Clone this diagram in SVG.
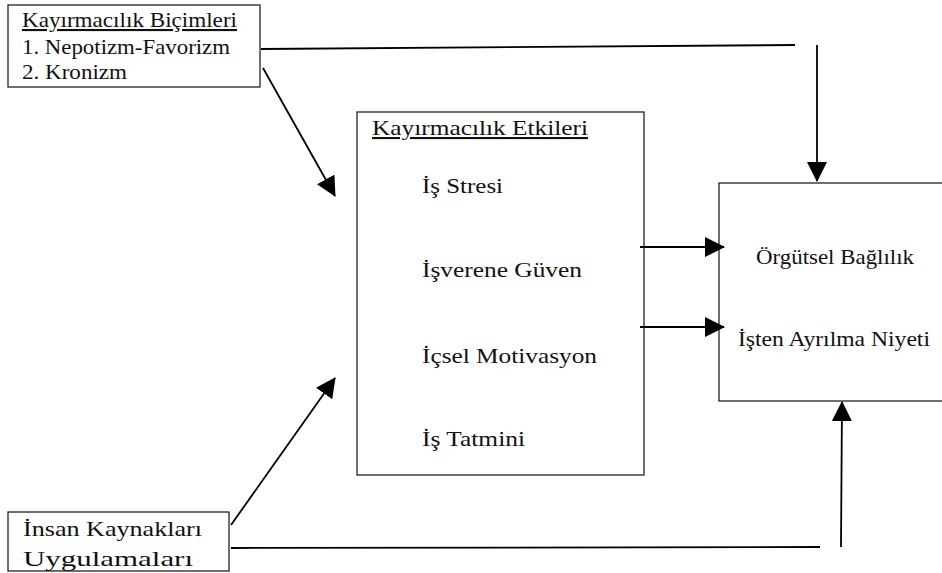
<svg xmlns="http://www.w3.org/2000/svg" width="942" height="573" viewBox="0 0 942 573">
<style>
.box{fill:#fff;stroke:#222;stroke-width:1.3}
.u{text-decoration:underline}
.c{fill:none;stroke:#000;stroke-width:1.8}
</style>
<defs>
<marker id="ah" viewBox="0 0 20 20" refX="19" refY="10" markerWidth="20" markerHeight="20" markerUnits="userSpaceOnUse" orient="auto">
<path d="M0,0 L20,10 L0,20 Z" fill="#000"/>
</marker>
</defs>
<rect width="942" height="573" fill="#fff"/>
<g font-family="'Liberation Serif', 'DejaVu Serif', 'Times New Roman', Times, serif" font-size="21" fill="#111">
<g id="bicimler">
<rect class="box" x="8" y="5" width="252" height="82"/>
<text class="u" x="22" y="27" textLength="215" lengthAdjust="spacingAndGlyphs">Kayırmacılık Biçimleri</text>
<text x="22" y="54" textLength="208" lengthAdjust="spacingAndGlyphs">1. Nepotizm-Favorizm</text>
<text x="22" y="79" textLength="105" lengthAdjust="spacingAndGlyphs">2. Kronizm</text>
</g>
<g id="etkiler">
<rect class="box" x="357" y="112" width="287" height="363"/>
<text class="u" x="372" y="135" textLength="216" lengthAdjust="spacingAndGlyphs">Kayırmacılık Etkileri</text>
<text x="422" y="193" textLength="81" lengthAdjust="spacingAndGlyphs">İş Stresi</text>
<text x="422" y="277" textLength="160" lengthAdjust="spacingAndGlyphs">İşverene Güven</text>
<text x="422" y="363" textLength="175" lengthAdjust="spacingAndGlyphs">İçsel Motivasyon</text>
<text x="422" y="446" textLength="103" lengthAdjust="spacingAndGlyphs">İş Tatmini</text>
</g>
<g id="sonuclar">
<rect class="box" x="719" y="183" width="240" height="218"/>
<text x="756" y="264" textLength="158" lengthAdjust="spacingAndGlyphs">Örgütsel Bağlılık</text>
<text x="738" y="346" textLength="192" lengthAdjust="spacingAndGlyphs">İşten Ayrılma Niyeti</text>
</g>
<g id="ik">
<rect class="box" x="8" y="512" width="221" height="59"/>
<text x="23" y="536" textLength="179" lengthAdjust="spacingAndGlyphs">İnsan Kaynakları</text>
<text x="23" y="566" textLength="170" lengthAdjust="spacingAndGlyphs">Uygulamaları</text>
</g>
</g>
<g id="connectors">
<line class="c" x1="261" y1="49" x2="795" y2="45"/>
<line class="c" x1="817" y1="45" x2="817" y2="181" marker-end="url(#ah)"/>
<line class="c" x1="263" y1="68" x2="335" y2="196" marker-end="url(#ah)"/>
<line class="c" x1="640" y1="247" x2="724" y2="247" marker-end="url(#ah)"/>
<line class="c" x1="640" y1="327" x2="724" y2="327" marker-end="url(#ah)"/>
<line class="c" x1="231" y1="525" x2="335" y2="378" marker-end="url(#ah)"/>
<line class="c" x1="231" y1="548" x2="820" y2="547"/>
<line class="c" x1="841" y1="547" x2="842" y2="402" marker-end="url(#ah)"/>
</g>
</svg>
